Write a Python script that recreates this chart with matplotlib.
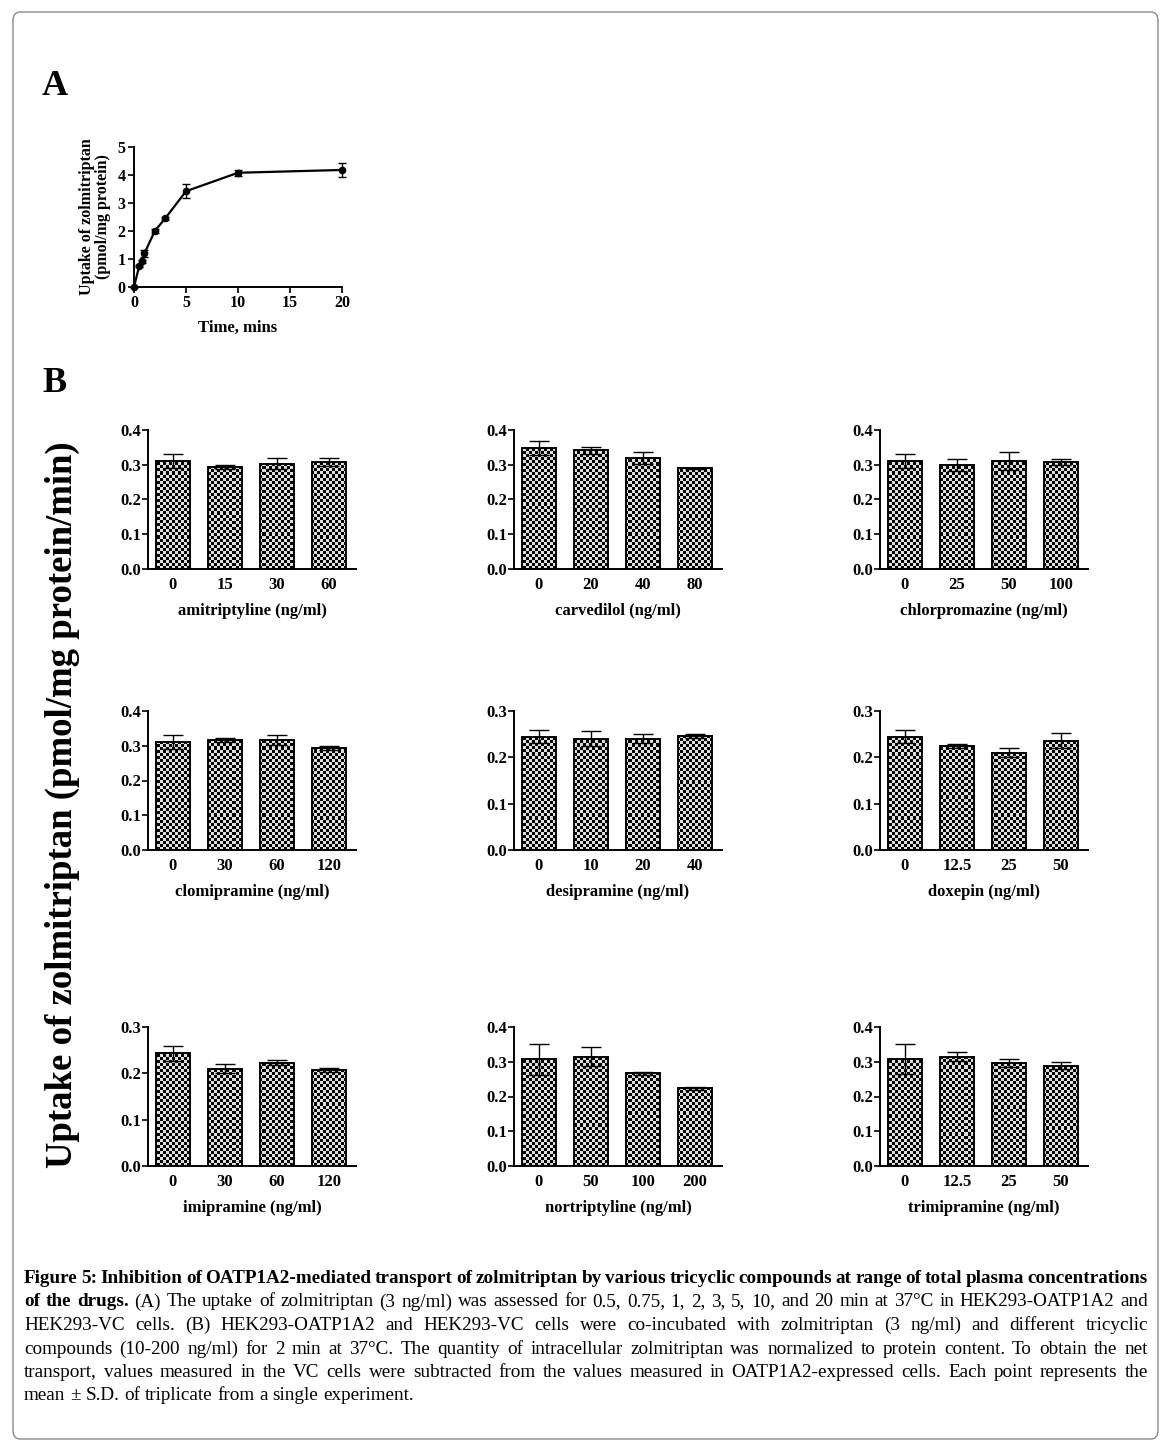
import numpy as np
import matplotlib
matplotlib.use("Agg")
import matplotlib.pyplot as plt
from matplotlib.patches import FancyBboxPatch

plt.rcParams['font.family'] = ['Liberation Serif', 'DejaVu Serif']
plt.rcParams['font.weight'] = 'bold'

W, H = 1174, 1451

# ---------------- data: panel A (time course) ----------------
time_min = [0, 0.5, 0.75, 1, 2, 3, 5, 10, 20]
uptake = [0, 0.75, 0.92, 1.20, 2.00, 2.45, 3.42, 4.08, 4.18]
uptake_sd = [0, 0.05, 0.05, 0.12, 0.08, 0.05, 0.25, 0.10, 0.25]

# ---------------- data: panel B (inhibition bars) ----------------
drugs = ["amitriptyline", "carvedilol", "chlorpromazine",
         "clomipramine", "desipramine", "doxepin",
         "imipramine", "nortriptyline", "trimipramine"]
doses = [["0", "15", "30", "60"],
         ["0", "20", "40", "80"],
         ["0", "25", "50", "100"],
         ["0", "30", "60", "120"],
         ["0", "10", "20", "40"],
         ["0", "12.5", "25", "50"],
         ["0", "30", "60", "120"],
         ["0", "50", "100", "200"],
         ["0", "12.5", "25", "50"]]
means = [[0.311, 0.293, 0.303, 0.308],
         [0.348, 0.342, 0.320, 0.290],
         [0.311, 0.300, 0.311, 0.308],
         [0.310, 0.317, 0.317, 0.294],
         [0.244, 0.240, 0.240, 0.246],
         [0.244, 0.224, 0.210, 0.236],
         [0.243, 0.210, 0.223, 0.207],
         [0.307, 0.315, 0.267, 0.224],
         [0.307, 0.314, 0.296, 0.289]]
sds = [[0.020, 0.005, 0.015, 0.012],
       [0.020, 0.010, 0.018, 0.001],
       [0.020, 0.017, 0.025, 0.008],
       [0.020, 0.005, 0.015, 0.005],
       [0.014, 0.016, 0.010, 0.005],
       [0.014, 0.004, 0.010, 0.016],
       [0.016, 0.010, 0.005, 0.004],
       [0.044, 0.027, 0.004, 0.004],
       [0.043, 0.013, 0.012, 0.010]]
ytops = [0.4, 0.4, 0.4, 0.4, 0.3, 0.3, 0.3, 0.4, 0.4]

caption_lines = [
    "Figure 5: Inhibition of OATP1A2-mediated transport of zolmitriptan by various tricyclic compounds at range of total plasma concentrations",
    "of the drugs. (A) The uptake of zolmitriptan (3 ng/ml) was assessed for 0.5, 0.75, 1, 2, 3, 5, 10, and 20 min at 37°C in HEK293-OATP1A2 and",
    "HEK293-VC cells. (B) HEK293-OATP1A2 and HEK293-VC cells were co-incubated with zolmitriptan (3 ng/ml) and different tricyclic",
    "compounds (10-200 ng/ml) for 2 min at 37°C. The quantity of intracellular zolmitriptan was normalized to protein content. To obtain the net",
    "transport, values measured in the VC cells were subtracted from the values measured in OATP1A2-expressed cells. Each point represents the",
    "mean ± S.D. of triplicate from a single experiment.",
]
bold_words = 18 + 3  # words of the caption title (line 1 + "of the drugs.")


def box(l, t, r, b):
    return [l / W, 1 - b / H, (r - l) / W, (b - t) / H]


fig = plt.figure(figsize=(W / 100, H / 100), dpi=100)

# outer frame
frame = FancyBboxPatch((13 / W, 1 - 1439 / H), 1145 / W, 1427 / H,
                       boxstyle="round,pad=0,rounding_size=0.006",
                       transform=fig.transFigure, facecolor="none",
                       edgecolor="#8a8a8a", linewidth=1.0)
fig.patches.append(frame)

fig.text(42 / W, 1 - 95 / H, "A", fontsize=26, fontweight="bold", ha="left", va="baseline")
fig.text(42 / W, 1 - 392 / H, "B", fontsize=26, fontweight="bold", ha="left", va="baseline")

# ---------------- panel A ----------------
axA = fig.add_axes(box(134, 147, 342, 287))
axA.errorbar(time_min, uptake, yerr=uptake_sd, color="black", marker="o",
             markersize=4.5, linewidth=1.6, elinewidth=1.0, capsize=3, clip_on=False)
axA.set_xlim(0, 20)
axA.set_ylim(0, 5)
axA.set_xticks([0, 5, 10, 15, 20])
axA.set_yticks([0, 1, 2, 3, 4, 5])
for s in ["top", "right"]:
    axA.spines[s].set_visible(False)
for s in ["left", "bottom"]:
    axA.spines[s].set_linewidth(1.4)
axA.tick_params(direction="out", length=4, width=1.2, labelsize=11.5, pad=2)
axA.set_xlabel("Time, mins", fontsize=12, fontweight="bold", labelpad=6)
axA.set_ylabel("Uptake of zolmitriptan\n(pmol/mg protein)", fontsize=11.5,
               fontweight="bold", labelpad=5, linespacing=1.0)

# ---------------- panel B ----------------
col_left = [148, 514, 880]
row_top = [430, 711, 1027]
ax_w, ax_h = 208, 139
bar_w = 0.65
xpos = np.arange(4)

for i, drug in enumerate(drugs):
    r, c = divmod(i, 3)
    l, t = col_left[c], row_top[r]
    ax = fig.add_axes(box(l, t, l + ax_w, t + ax_h))
    ytop = ytops[i]
    ax.set_xlim(-0.48, 3.52)
    ax.set_ylim(0, ytop)

    bars = ax.bar(xpos, means[i], width=bar_w, facecolor="none",
                  edgecolor="black", linewidth=1.4, zorder=3)
    # checkered fill, clipped to each bar
    nx, ny = ax_w // 3, ax_h // 3
    checker = (np.add.outer(np.arange(ny), np.arange(nx)) % 2).astype(float)
    for b in bars:
        im = ax.imshow(checker, cmap="gray", vmin=0, vmax=1.15,
                       extent=(-0.48, 3.52, 0, ytop), aspect="auto",
                       interpolation="nearest", zorder=2)
        im.set_clip_path(b)
    ax.errorbar(xpos, means[i], yerr=sds[i], fmt="none", ecolor="black",
                elinewidth=1.0, capsize=7, capthick=1.0, zorder=4)

    ax.set_xticks(xpos)
    ax.set_xticklabels(doses[i])
    ax.set_yticks(np.round(np.arange(0, ytop + 0.001, 0.1), 1))
    ax.yaxis.set_major_formatter(plt.FormatStrFormatter("%.1f"))
    for s in ["top", "right"]:
        ax.spines[s].set_visible(False)
    for s in ["left", "bottom"]:
        ax.spines[s].set_linewidth(1.4)
    ax.tick_params(axis="y", direction="out", length=4, width=1.2, labelsize=12, pad=1)
    ax.tick_params(axis="x", length=0, labelsize=12, pad=6)
    ax.set_xlabel(drug + " (ng/ml)", fontsize=12, fontweight="bold", labelpad=7)

fig.text(62 / W, 1 - 805 / H, "Uptake of zolmitriptan (pmol/mg protein/min)",
         rotation=90, fontsize=26.5, fontweight="bold", ha="center", va="center")

# ---------------- caption (justified) ----------------
renderer = fig.canvas.get_renderer()
cap_l, cap_r = 24, 1148
baselines = [1283, 1306.5, 1330, 1353.5, 1377, 1400.5]
cap_size = 14


def measure(word, weight, size):
    t = fig.text(0, 0, word, fontsize=size, fontweight=weight)
    w = t.get_window_extent(renderer).width
    t.remove()
    return w


words_all = []
k = 0
for line in caption_lines:
    row = []
    for w in line.split(" "):
        row.append((w, "bold" if k < bold_words else "normal"))
        k += 1
    words_all.append(row)

# shrink font if a line would not fit
while True:
    widest = max(sum(measure(w, wt, cap_size) for w, wt in row) + 3 * (len(row) - 1)
                 for row in words_all)
    if widest <= cap_r - cap_l:
        break
    cap_size -= 0.25

space_nat = measure("a a", "normal", cap_size) - measure("aa", "normal", cap_size)
for j, row in enumerate(words_all):
    widths = [measure(w, wt, cap_size) for w, wt in row]
    if j < len(words_all) - 1:
        gap = (cap_r - cap_l - sum(widths)) / (len(row) - 1)
    else:
        gap = space_nat
    x = cap_l
    for (w, wt), wd in zip(row, widths):
        fig.text(x / W, 1 - baselines[j] / H, w, fontsize=cap_size, fontweight=wt,
                 ha="left", va="baseline")
        x += wd + gap

fig.savefig("out.png", dpi=100)
